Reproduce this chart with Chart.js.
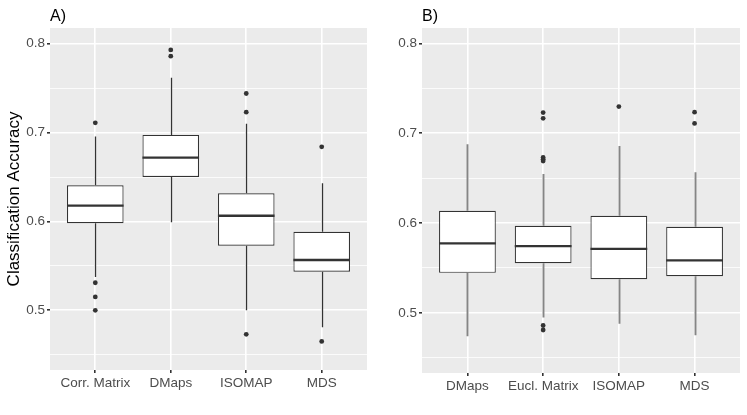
<!DOCTYPE html>
<html>
<head>
<meta charset="utf-8">
<script src="https://cdn.jsdelivr.net/npm/chart.js@4/dist/chart.umd.min.js"></script>
<style>
  html, body { margin: 0; padding: 0; background: #fff; }
  #wrap { position: relative; width: 747px; height: 415px; }
  .panel { position: absolute; top: 0; height: 415px; }
  #pa { left: 0; width: 372px; }
  #pb { left: 372px; width: 375px; }
</style>
</head>
<body>
<div id="wrap">
  <div class="panel" id="pa"><canvas id="chartA"></canvas></div>
  <div class="panel" id="pb"><canvas id="chartB"></canvas></div>
</div>
<script>
// panel A
const catsA = ['Corr. Matrix', 'DMaps', 'ISOMAP', 'MDS'];
const lowA  = [0.5375, 0.599, 0.500, 0.481];
const q1A   = [0.598, 0.650, 0.5727, 0.5434];
const medA  = [0.6178, 0.6719, 0.6064, 0.5566];
const q3A   = [0.6407, 0.6974, 0.6317, 0.5884];
const highA = [0.6955, 0.7618, 0.7098, 0.643];
const outA  = [[0.711, 0.531, 0.515, 0.500], [0.793, 0.786], [0.744, 0.723, 0.473], [0.684, 0.465]];

// panel B
const catsB = ['DMaps', 'Eucl. Matrix', 'ISOMAP', 'MDS'];
const lowB  = [0.474, 0.495, 0.488, 0.475];
const q1B   = [0.5446, 0.5554, 0.5376, 0.5409];
const medB  = [0.5774, 0.5744, 0.5713, 0.5584];
const q3B   = [0.6137, 0.597, 0.6081, 0.5959];
const highB = [0.6877, 0.6546, 0.6858, 0.6566];
const outB  = [[], [0.723, 0.7166, 0.673, 0.671, 0.669, 0.486, 0.481], [0.7297], [0.7235, 0.711]];

const majorTicks = [0.5, 0.6, 0.7, 0.8];
const minorTicks = [0.45, 0.55, 0.65, 0.75];

const FONT = "'Liberation Sans', Arial, sans-serif";

// grey panel background
const panelBg = {
  id: 'panelBg',
  beforeDraw(chart) {
    const a = chart.chartArea, ctx = chart.ctx;
    ctx.save();
    ctx.fillStyle = '#EBEBEB';
    ctx.fillRect(a.left, a.top, a.right - a.left, a.bottom - a.top);
    ctx.restore();
  }
};

// whiskers + median lines, positioned with the chart scales
const boxParts = (low, q1, med, q3, high, whiskColor, whiskWidth) => ({
  id: 'boxParts',
  beforeDatasetsDraw(chart) {
    const x = chart.scales.x, y = chart.scales.y, ctx = chart.ctx;
    ctx.save();
    ctx.strokeStyle = whiskColor;
    ctx.lineWidth = whiskWidth;
    low.forEach((v, i) => {
      const px = Math.round(x.getPixelForValue(i + 1)) + 0.5;
      ctx.beginPath();
      ctx.moveTo(px, y.getPixelForValue(q3[i]));
      ctx.lineTo(px, y.getPixelForValue(high[i]));
      ctx.moveTo(px, y.getPixelForValue(q1[i]));
      ctx.lineTo(px, y.getPixelForValue(v));
      ctx.stroke();
    });
    ctx.restore();
  },
  afterDatasetsDraw(chart) {
    const y = chart.scales.y, ctx = chart.ctx;
    const bars = chart.getDatasetMeta(0).data;
    ctx.save();
    ctx.strokeStyle = '#333333';
    ctx.lineWidth = 2.3;
    med.forEach((v, i) => {
      const b = bars[i];
      const py = y.getPixelForValue(v);
      ctx.beginPath();
      ctx.moveTo(b.x - b.width / 2, py);
      ctx.lineTo(b.x + b.width / 2, py);
      ctx.stroke();
    });
    ctx.restore();
  }
});

const panelLabel = (txt) => ({
  id: 'panelLabel',
  afterDraw(chart) {
    const ctx = chart.ctx;
    ctx.save();
    ctx.fillStyle = '#000';
    ctx.font = '16px ' + FONT;
    ctx.textBaseline = 'alphabetic';
    ctx.textAlign = 'left';
    ctx.fillText(txt, chart.chartArea.left, 21);
    ctx.restore();
  }
});

const makeChart = (id, cats, low, q1, med, q3, high, outs, opt) => {
  const boxes = cats.map((c, i) => ({ x: i + 1, y: [q1[i], q3[i]] }));
  const pts = [];
  outs.forEach((arr, i) => arr.forEach(v => pts.push({ x: i + 1, y: v })));
  return new Chart(document.getElementById(id), {
    type: 'bar',
    data: {
      datasets: [{
        type: 'bar',
        data: boxes,
        backgroundColor: '#FFFFFF',
        borderColor: '#333333',
        borderWidth: 1.2,
        borderSkipped: false,
        barPercentage: 0.75,
        categoryPercentage: 1
      }, {
        type: 'scatter',
        data: pts,
        pointRadius: 2.4,
        pointBackgroundColor: '#333333',
        pointBorderWidth: 0,
        showLine: false
      }]
    },
    options: {
      responsive: true,
      maintainAspectRatio: false,
      animation: false,
      events: [],
      layout: { padding: { top: opt.top, right: opt.right, left: 0, bottom: 0 } },
      plugins: { legend: { display: false }, tooltip: { enabled: false } },
      scales: {
        x: {
          type: 'linear',
          min: 0.4,
          max: 4.6,
          offset: false,
          border: { display: false },
          grid: { color: '#FFFFFF', lineWidth: 1.6, tickColor: '#333333', tickLength: 3, offset: false },
          ticks: {
            autoSkip: false,
            maxRotation: 0,
            padding: 2,
            color: '#4D4D4D',
            font: { family: FONT, size: 13.5 },
            callback: v => cats[v - 1]
          },
          afterBuildTicks: s => { s.ticks = cats.map((c, i) => ({ value: i + 1 })); },
          afterFit: s => { s.height = opt.xh; }
        },
        y: {
          type: 'linear',
          min: opt.ymin,
          max: opt.ymax,
          beginAtZero: false,
          border: { display: false },
          grid: {
            color: '#FFFFFF',
            lineWidth: c => majorTicks.includes(c.tick.value) ? 1.6 : 0.8,
            tickColor: c => majorTicks.includes(c.tick.value) ? '#333333' : 'rgba(0,0,0,0)',
            tickLength: 3
          },
          ticks: {
            autoSkip: false,
            padding: 2,
            color: '#4D4D4D',
            font: { family: FONT, size: 13.5 },
            callback: v => majorTicks.includes(v) ? v.toFixed(1) : ''
          },
          title: {
            display: !!opt.ytitle,
            text: opt.ytitle || '',
            color: '#000000',
            font: { family: FONT, size: 17 },
            padding: { top: 4, bottom: 0 }
          },
          afterBuildTicks: s => {
            s.ticks = majorTicks.concat(minorTicks).sort((a, b) => a - b).map(v => ({ value: v }));
          },
          afterFit: s => { s.width = 50; }
        }
      }
    },
    plugins: [panelBg, boxParts(low, q1, med, q3, high, opt.whisk, opt.whiskW), panelLabel(opt.label)]
  });
};

document.addEventListener('DOMContentLoaded', () => {
  makeChart('chartA', catsA, lowA, q1A, medA, q3A, highA, outA,
    { top: 28, right: 5, xh: 45, ymin: 0.4328, ymax: 0.8177, ytitle: 'Classification Accuracy', label: 'A)', whisk: '#333333', whiskW: 1.3 });
  makeChart('chartB', catsB, lowB, q1B, medB, q3B, highB, outB,
    { top: 28, right: 7, xh: 42, ymin: 0.4331, ymax: 0.8172, ytitle: '', label: 'B)', whisk: '#858585', whiskW: 1.9 });
});
</script>
</body>
</html>
